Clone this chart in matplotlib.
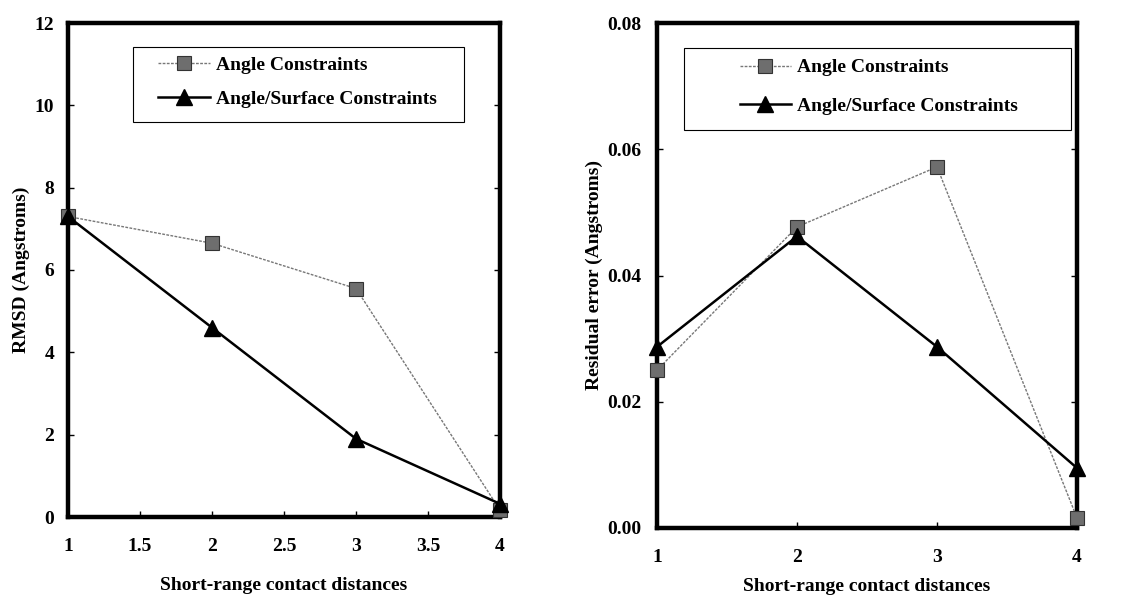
import matplotlib
matplotlib.use("Agg")
import matplotlib.pyplot as plt
from matplotlib.patches import Rectangle

plt.rcParams['font.family'] = ['Liberation Serif', 'DejaVu Serif']
plt.rcParams['font.weight'] = 'bold'

x_left = [1, 2, 3, 4]
rmsd_angle = [7.3, 6.65, 5.55, 0.17]
rmsd_surface = [7.3, 4.6, 1.9, 0.32]

x_right = [1, 2, 3, 4]
resid_angle = [0.025, 0.0477, 0.0572, 0.0016]
resid_surface = [0.0287, 0.0462, 0.0287, 0.0095]

labels = ["Angle Constraints", "Angle/Surface Constraints"]
xlabel = "Short-range contact distances"
ylabel_left = "RMSD (Angstroms)"
ylabel_right = "Residual error (Angstroms)"

fig = plt.figure(figsize=(11.23, 5.97), dpi=100)
ax1 = fig.add_axes([68 / 1123, 80 / 597, 432 / 1123, 494 / 597])
ax2 = fig.add_axes([657 / 1123, 69 / 597, 420 / 1123, 505 / 597])

def style(ax, xpad, ypad):
    for s in ax.spines.values():
        s.set_linewidth(3.2)
    ax.tick_params(direction='in', length=4, width=1, labelsize=14,
                   right=True)
    ax.tick_params(axis='x', pad=xpad)
    ax.tick_params(axis='y', pad=ypad)
    for t in ax.get_xticklabels() + ax.get_yticklabels():
        t.set_fontweight('bold')

sq_kw = dict(marker='s', markersize=10, markerfacecolor='#6e6e6e', markeredgecolor='#333333',
             markeredgewidth=0.8, color='#777777', lw=1.0, linestyle=(0, (2, 1)))
tri_kw = dict(marker='^', markersize=11, markerfacecolor='black', markeredgecolor='black',
              color='black', lw=1.8)

def legend_box(ax, frame, anchor, spacing, hl):
    x0, y0, x1, y1 = frame
    ax.add_patch(Rectangle((x0, y0), x1 - x0, y1 - y0, transform=ax.transAxes,
                           fill=True, facecolor='white', edgecolor='black',
                           lw=0.8, zorder=5, clip_on=False))
    leg = ax.legend(loc='upper left', bbox_to_anchor=anchor, borderaxespad=0,
                    borderpad=0, frameon=False, handlelength=hl, handletextpad=0.3,
                    labelspacing=spacing, prop={'weight': 'bold', 'size': 14})
    leg.set_zorder(6)
    return leg

ax1.plot(x_left, rmsd_angle, label=labels[0], clip_on=False, zorder=3, **sq_kw)
ax1.plot(x_left, rmsd_surface, label=labels[1], clip_on=False, zorder=4, **tri_kw)
ax1.set_xlim(1, 4)
ax1.set_ylim(0, 12)
ax1.set_xticks([1, 1.5, 2, 2.5, 3, 3.5, 4])
ax1.set_xticklabels(['1', '1.5', '2', '2.5', '3', '3.5', '4'])
ax1.set_yticks([0, 2, 4, 6, 8, 10, 12])
style(ax1, 15, 10)
ax1.set_xlabel(xlabel, fontsize=14, fontweight='bold', labelpad=16)
ax1.set_ylabel(ylabel_left, fontsize=14, fontweight='bold', labelpad=3)
legend_box(ax1, (0.150, 0.800, 0.916, 0.951), (0.208, 0.933), 0.85, 2.7)

ax2.plot(x_right, resid_angle, label=labels[0], clip_on=False, zorder=3, **sq_kw)
ax2.plot(x_right, resid_surface, label=labels[1], clip_on=False, zorder=4, **tri_kw)
ax2.set_xlim(1, 4)
ax2.set_ylim(0, 0.08)
ax2.set_xticks([1, 2, 3, 4])
ax2.set_yticks([0, 0.02, 0.04, 0.06, 0.08])
ax2.set_yticklabels(['0.00', '0.02', '0.04', '0.06', '0.08'])
style(ax2, 15, 11)
ax2.set_xlabel(xlabel, fontsize=14, fontweight='bold', labelpad=9)
ax2.set_ylabel(ylabel_right, fontsize=14, fontweight='bold', labelpad=3)
legend_box(ax2, (0.064, 0.788, 0.985, 0.950), (0.198, 0.929), 1.06, 2.6)

fig.savefig("out.png", dpi=100)
